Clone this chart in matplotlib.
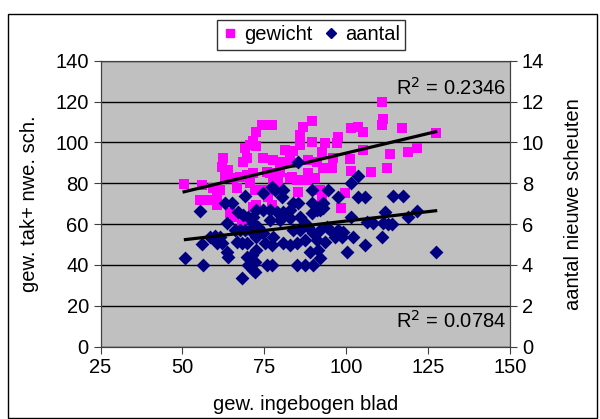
import numpy as np
import matplotlib
matplotlib.use("Agg")
import matplotlib.pyplot as plt
from matplotlib.patches import Rectangle

plt.rcParams['font.family'] = ['Liberation Sans', 'DejaVu Sans']

# gewicht (pink squares): gew. ingebogen blad vs gew. tak+ nwe. sch.
gew_x = [50.5, 55.9, 55.3, 57.9, 60.4, 60.4, 59.4, 61.4, 62.5, 62.0, 64.0, 63.0,
         64.5, 66.0, 68.1, 65.5, 67.5, 69.6, 66.5, 70.6, 70.6, 69.1, 69.6, 68.6,
         72.6, 71.6, 72.1, 71.6, 74.3, 77.3, 72.6, 71.6, 74.7, 77.7, 80.8, 83.8,
         88.4, 91.0, 93.0, 76.7, 79.8, 83.3, 88.4, 90.4, 84.9, 79.2, 85.3, 92.0,
         92.5, 99.6, 76.2, 72.6, 77.2, 98.4, 89.4, 86.9, 85.9, 97.6, 97.1, 101.6,
         103.7, 105.2, 89.4, 93.5, 92.5, 105.2, 101.1, 101.4, 107.7, 112.3, 113.5,
         96.0, 95.5, 81.3, 83.8, 85.9, 75.7, 77.7, 82.8, 87.9, 75.2, 79.2, 111.0,
         111.3, 110.8, 116.9, 127.3, 121.5, 118.9, 79.8, 82.8]
gew_y = [79.5, 79.2, 71.8, 71.8, 73.4, 69.4, 77.5, 76.7, 92.2, 88.1, 86.5, 83.2,
         65.3, 63.6, 61.2, 82.4, 83.2, 84.1, 77.5, 80.0, 98.8, 97.2, 92.2, 90.6,
         105.3, 84.9, 76.7, 68.5, 108.6, 108.6, 98.4, 100.8, 92.2, 91.4, 90.6, 89.8,
         91.4, 90.6, 87.3, 84.9, 85.7, 83.2, 84.9, 82.4, 81.6, 81.6, 75.9, 76.7,
         73.4, 75.1, 73.4, 69.4, 69.4, 68.0, 110.5, 107.8, 103.7, 102.8, 99.6, 107.0,
         107.8, 105.3, 100.4, 99.6, 95.5, 96.3, 92.0, 86.0, 85.7, 87.5, 94.5,
         92.2, 87.3, 96.3, 95.9, 98.8, 85.7, 81.6, 82.4, 81.6, 76.7, 76.7, 119.7,
         111.3, 108.5, 107.0, 104.8, 97.4, 95.5, 90.6, 91.4]

# aantal (navy diamonds): gew. ingebogen blad vs aantal nieuwe scheuten
aant_x = [50.9, 55.3, 56.2, 55.9, 58.4, 59.9, 61.4, 60.4, 62.0, 63.5, 63.0, 65.0,
          69.1, 63.5, 64.0, 68.1, 66.0, 67.5, 69.1, 70.6, 67.0, 68.6, 70.1, 71.6,
          66.5, 68.1, 69.6, 69.6, 71.1, 70.1, 71.6, 72.1, 72.6, 71.6, 73.1, 74.7,
          83.8, 85.4, 89.4, 92.0, 97.6, 103.7, 105.7, 101.6, 111.8, 108.2, 111.3,
          72.6, 74.7, 76.7, 78.8, 80.8, 82.8, 82.8, 85.9, 87.4, 88.4, 89.4, 91.0,
          93.0, 76.7, 79.8, 83.8, 85.9, 89.9, 92.0, 94.0, 95.5, 97.6, 99.1, 102.1,
          105.7, 100.1, 72.6, 75.2, 77.2, 77.7, 80.8, 82.8, 85.0, 87.4, 91.0, 93.5,
          88.9, 91.5, 92.0, 72.1, 75.7, 77.2, 84.9, 87.4, 89.9, 73.7, 74.7, 85.2,
          103.7, 101.6, 78.2, 80.8, 80.3, 77.2, 89.4, 94.5, 93.0, 114.3, 117.2,
          121.5, 118.9, 112.8, 113.9, 110.8, 127.3, 96.5, 98.6, 106.2]
aant_y = [4.35, 6.64, 4.0, 5.0, 5.38, 5.42, 5.38, 5.06, 5.06, 6.04, 7.02, 7.02,
          7.38, 4.65, 4.4, 3.34, 5.71, 5.71, 5.71, 5.71, 6.6, 6.45, 6.36, 6.36,
          5.14, 5.06, 5.06, 4.4, 4.49, 4.0, 3.75, 4.16, 4.73, 6.04, 5.87, 7.51,
          7.02, 7.02, 7.02, 6.69, 7.34, 7.34, 7.34, 6.36, 6.6, 6.04, 6.04,
          6.69, 6.69, 6.69, 6.6, 6.6, 6.69, 6.28, 6.36, 6.04, 5.87, 6.53, 6.69,
          6.77, 6.2, 6.2, 5.71, 5.71, 5.55, 5.71, 5.87, 5.63, 5.71, 5.63, 5.38,
          4.98, 4.65, 5.38, 5.06, 4.98, 5.38, 5.06, 4.98, 5.06, 5.22, 5.22, 5.14,
          4.65, 4.73, 4.32, 3.67, 4.0, 4.0, 4.0, 4.0, 4.0, 5.71, 5.55, 9.06,
          8.36, 8.0, 7.67, 7.67, 7.34, 7.83, 7.67, 7.67, 7.02, 7.38, 7.38,
          6.64, 6.33, 5.99, 5.99, 5.35, 4.65, 5.38, 5.38, 6.12]

x_ticks = [25, 50, 75, 100, 125, 150]
left_ticks = [0, 20, 40, 60, 80, 100, 120, 140]
right_ticks = [0, 2, 4, 6, 8, 10, 12, 14]
r2_gew = "0.2346"
r2_aant = "0.0784"

fs = 14.5
fig = plt.figure(figsize=(6, 4.19), dpi=100)
fig.patches.append(Rectangle((8 / 600, 0.002), 589 / 600, 1 - 14 / 419 - 0.002,
                             transform=fig.transFigure, fill=False,
                             edgecolor='black', linewidth=1))

ax = fig.add_axes([100.6 / 600, 1 - 346.5 / 419, (510 - 100.6) / 600, (346.5 - 60.9) / 419])
ax.set_facecolor('#C0C0C0')
ax.set_xlim(25, 150)
ax.set_ylim(0, 140)
ax.set_xticks(x_ticks)
ax.set_yticks(left_ticks)
ax.yaxis.grid(True, color='black', linewidth=1)
ax.set_axisbelow(True)
for s in ax.spines.values():
    s.set_color('#404040')
ax.spines['top'].set_color('#808080')
ax.tick_params(direction='out', length=5, labelsize=fs, color='#404040')
ax.set_xlabel('gew. ingebogen blad', fontsize=fs, labelpad=13)
ax.set_ylabel('gew. tak+ nwe. sch.', fontsize=fs, labelpad=12)

ax.scatter(gew_x, gew_y, marker='s', s=62, color='#FF00FF', linewidths=0, zorder=3)
c = np.polyfit(gew_x, gew_y, 1)
xl = np.array([min(gew_x), max(gew_x)])
ax.plot(xl, np.polyval(c, xl), color='black', linewidth=2.3, zorder=4)

ax2 = ax.twinx()
ax2.set_ylim(0, 14)
ax2.set_yticks(right_ticks)
for s in ax2.spines.values():
    s.set_color('#404040')
ax2.tick_params(direction='out', length=5, labelsize=fs, color='#404040')
ax2.set_ylabel('aantal nieuwe scheuten', fontsize=fs, labelpad=14)
ax2.scatter(aant_x, aant_y, marker='D', s=50, color='#000080', linewidths=0, zorder=3)
c2 = np.polyfit(aant_x, aant_y, 1)
xl2 = np.array([min(aant_x), max(aant_x)])
ax2.plot(xl2, np.polyval(c2, xl2), color='black', linewidth=2.3, zorder=4)

ax.text(0.99, 0.905, "R$^2$ = " + r2_gew, transform=ax.transAxes, ha='right',
        va='center', fontsize=fs)
ax.text(0.99, 0.09, "R$^2$ = " + r2_aant, transform=ax.transAxes, ha='right',
        va='center', fontsize=fs)

h1 = plt.Line2D([], [], marker='s', color='#FF00FF', linestyle='none', markersize=6)
h2 = plt.Line2D([], [], marker='D', color='#000080', linestyle='none', markersize=5)
leg = fig.legend([h1, h2], ['gewicht', 'aantal'], loc='center',
                 bbox_to_anchor=(311 / 600, 1 - 35 / 419), ncol=2, fontsize=fs,
                 frameon=True, fancybox=False, handlelength=0.8, handletextpad=0.3,
                 columnspacing=0.5, borderpad=0.25)
leg.get_frame().set_edgecolor('black')
leg.get_frame().set_linewidth(1)

fig.savefig('out.png', dpi=100)
